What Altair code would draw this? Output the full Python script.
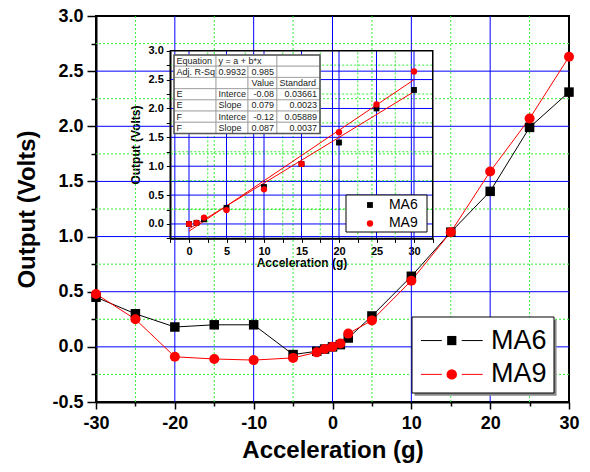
import altair as alt
import pandas as pd

# ---------------- data ----------------
accel = [-30, -25, -20, -15, -10, -5, -2, -1, 0, 1, 2, 5, 10, 15, 20, 25, 30]
ma6 = [0.45, 0.30, 0.18, 0.20, 0.20, -0.07, -0.04, -0.02, 0.00, 0.02, 0.08, 0.28, 0.64, 1.04, 1.41, 1.99, 2.31]
ma9 = [0.48, 0.25, -0.09, -0.11, -0.12, -0.10, -0.05, -0.02, 0.00, 0.03, 0.12, 0.24, 0.60, 1.04, 1.59, 2.07, 2.63]
series_names = ["MA6", "MA9"]
series_colors = ["black", "red"]
series_shapes = ["square", "circle"]

inset_accel = [0, 1, 2, 5, 10, 15, 20, 25, 30]
inset_ma6 = [0.00, 0.02, 0.08, 0.28, 0.64, 1.04, 1.41, 2.00, 2.32]
inset_ma9 = [0.00, 0.02, 0.11, 0.24, 0.60, 1.04, 1.59, 2.07, 2.64]

main_x_ticks = [-30, -25, -20, -15, -10, -5, 0, 5, 10, 15, 20, 25, 30]
main_y_ticks = [-0.5, -0.25, 0.0, 0.25, 0.5, 0.75, 1.0, 1.25, 1.5, 1.75, 2.0, 2.25, 2.5, 2.75, 3.0]
main_x_major_grid = [-20, -10, 0, 10, 20]
main_x_minor_grid = [-25, -15, -5, 5, 15, 25]
main_y_major_grid = [0.0, 0.5, 1.0, 1.5, 2.0, 2.5]
main_y_minor_grid = [-0.25, 0.25, 0.75, 1.25, 1.75, 2.25, 2.75]

inset_x_ticks = [-2.5, 0, 2.5, 5, 7.5, 10, 12.5, 15, 17.5, 20, 22.5, 25, 27.5, 30, 32.5]
inset_y_ticks = [-0.25, 0.0, 0.25, 0.5, 0.75, 1.0, 1.25, 1.5, 1.75, 2.0, 2.25, 2.5, 2.75, 3.0]
inset_x_major_grid = [0, 5, 10, 15, 20, 25, 30]
inset_x_minor_grid = [2.5, 7.5, 12.5, 17.5, 22.5, 27.5]
inset_y_major_grid = [0.0, 0.5, 1.0, 1.5, 2.0, 2.5]
inset_y_minor_grid = [0.25, 0.75, 1.25, 1.75, 2.25, 2.75]

table_col1 = ["Equation", "Adj. R-Sq", "", "E", "E", "F", "F"]
table_col2 = ["y = a + b*x", "0.9932", "", "Interce", "Slope", "Interce", "Slope"]
table_col3 = ["", "0.985", "Value", "-0.08", "0.079", "-0.12", "0.087"]
table_col4 = ["", "", "Standard", "0.03661", "0.0023", "0.05889", "0.0037"]

# ---------------- layout / style ----------------
FONT = "Liberation Sans"
BLUE = "#0000ff"
GREEN = "#33ee33"
W, H = 473, 386
MINUS = "\u2212"

# ---------------- main chart ----------------
main_df = pd.DataFrame({
    "accel": accel + accel,
    "volts": ma6 + ma9,
    "series": ["MA6"] * len(accel) + ["MA9"] * len(accel),
})

MX = alt.Scale(domain=[-30, 30], nice=False, zero=False)
MY = alt.Scale(domain=[-0.5, 3.0], nice=False, zero=False)

x_major_test = "datum.value % 10 == 0"
y_major_test = "abs(round(datum.value * 4)) % 2 == 0"

mx_axis = alt.Axis(
    values=main_x_ticks, grid=False, title="Acceleration (g)",
    labelExpr=f"{x_major_test} ? replace(datum.label, '{MINUS}', '-') : ''",
    labelFont=FONT, labelFontSize=18, labelFontWeight="bold", labelColor="black",
    labelPadding=5, labelFlush=False, labelOverlap=False,
    tickColor="black", tickWidth=1.5,
    tickSize={"condition": {"test": x_major_test, "value": 7}, "value": 4},
    domainColor="black", domainWidth=2,
    titleFont=FONT, titleFontSize=24, titleFontWeight="bold", titleColor="black",
    titlePadding=6,
)
my_axis = alt.Axis(
    values=main_y_ticks, grid=False, title="Output (Volts)", format=".1f",
    labelExpr=f"{y_major_test} ? replace(datum.label, '{MINUS}', '-') : ''",
    labelFont=FONT, labelFontSize=18, labelFontWeight="bold", labelColor="black",
    labelPadding=4, labelFlush=False, labelOverlap=False,
    tickColor="black", tickWidth=1.5,
    tickSize={"condition": {"test": y_major_test, "value": 9}, "value": 5},
    domainColor="black", domainWidth=2,
    titleFont=FONT, titleFontSize=24, titleFontWeight="bold", titleColor="black",
    titlePadding=12,
)


def vgrid(values, color, dash, scale, axis, ylo=None, yhi=None, yscale=None, yaxis=None):
    ch = alt.Chart(pd.DataFrame({"g": values}))
    mk = ch.mark_rule(color=color, strokeWidth=1, strokeDash=dash) if dash else ch.mark_rule(color=color, strokeWidth=1)
    enc = {"x": alt.X("g:Q", scale=scale, axis=axis)}
    if ylo is not None:
        enc["y"] = alt.YDatum(ylo, scale=yscale, axis=yaxis)
        enc["y2"] = alt.Y2Datum(yhi)
    return mk.encode(**enc)


def hgrid(values, color, dash, scale, axis, xlo=None, xhi=None, xscale=None, xaxis=None):
    ch = alt.Chart(pd.DataFrame({"g": values}))
    mk = ch.mark_rule(color=color, strokeWidth=1, strokeDash=dash) if dash else ch.mark_rule(color=color, strokeWidth=1)
    enc = {"y": alt.Y("g:Q", scale=scale, axis=axis)}
    if xlo is not None:
        enc["x"] = alt.XDatum(xlo, scale=xscale, axis=xaxis)
        enc["x2"] = alt.X2Datum(xhi)
    return mk.encode(**enc)


color_enc = alt.Color("series:N", scale=alt.Scale(domain=series_names, range=series_colors), legend=None)
shape_enc = alt.Shape("series:N", scale=alt.Scale(domain=series_names, range=series_shapes), legend=None)

main_lines = alt.Chart(main_df).mark_line(strokeWidth=1).encode(
    x=alt.X("accel:Q", scale=MX, axis=mx_axis),
    y=alt.Y("volts:Q", scale=MY, axis=my_axis),
    color=color_enc,
)
main_points = alt.Chart(main_df).mark_point(filled=True, opacity=1).encode(
    x=alt.X("accel:Q", scale=MX, axis=mx_axis),
    y=alt.Y("volts:Q", scale=MY, axis=my_axis),
    color=color_enc,
    shape=shape_enc,
    size=alt.Size("series:N", scale=alt.Scale(domain=series_names, range=[90, 100]), legend=None),
)

main_layer = alt.layer(
    vgrid(main_x_minor_grid, GREEN, [2, 2], MX, mx_axis),
    hgrid(main_y_minor_grid, GREEN, [2, 2], MY, my_axis),
    vgrid(main_x_major_grid, BLUE, None, MX, mx_axis),
    hgrid(main_y_major_grid, BLUE, None, MY, my_axis),
    main_lines,
    main_points,
)

# ---------------- inset chart ----------------
inset_df = pd.DataFrame({
    "accel": inset_accel + inset_accel,
    "volts": inset_ma6 + inset_ma9,
    "series": ["MA6"] * len(inset_accel) + ["MA9"] * len(inset_accel),
})

IX = alt.Scale(domain=[-2.5, 32.5], range=[74.25, 336.75], nice=False, zero=False)
IY = alt.Scale(domain=[-0.25, 3.0], range=[222.4, 34.7], nice=False, zero=False)

ix_major = "datum.value % 5 == 0"
iy_major = "abs(round(datum.value * 4)) % 2 == 0"

ix_axis = alt.Axis(
    orient="bottom", offset=222.4 - H, values=inset_x_ticks, grid=False,
    title="Acceleration (g)",
    labelExpr=f"{ix_major} ? replace(datum.label, '{MINUS}', '-') : ''",
    labelFont=FONT, labelFontSize=11, labelFontWeight="bold", labelColor="black",
    labelPadding=3, labelFlush=False, labelOverlap=False,
    tickColor="black", tickWidth=1, tickSize=4,
    domainColor="black", domainWidth=1.5,
    titleFont=FONT, titleFontSize=12, titleFontWeight="bold", titleColor="black",
    titlePadding=1,
)
iy_axis = alt.Axis(
    orient="left", offset=-74.25, values=inset_y_ticks, grid=False,
    title="Output (Volts)", format=".1f",
    labelExpr=f"{iy_major} ? replace(datum.label, '{MINUS}', '-') : ''",
    labelFont=FONT, labelFontSize=11, labelFontWeight="bold", labelColor="black",
    labelPadding=3, labelFlush=False, labelOverlap=False,
    tickColor="black", tickWidth=1, tickSize=4,
    domainColor="black", domainWidth=1.5,
    titleFont=FONT, titleFontSize=12, titleFontWeight="bold", titleColor="black",
    titlePadding=5,
)

inset_frame = alt.Chart(pd.DataFrame({"k": [0]})).mark_rect(
    filled=False, stroke="black", strokeWidth=1.5
).encode(
    x=alt.XDatum(-2.5, scale=IX, axis=ix_axis), x2=alt.X2Datum(32.5),
    y=alt.YDatum(-0.25, scale=IY, axis=iy_axis), y2=alt.Y2Datum(3.0),
)

inset_fit = alt.Chart(inset_df).transform_regression(
    "accel", "volts", groupby=["series"]
).mark_line(color="red", strokeWidth=1).encode(
    x=alt.X("accel:Q", scale=IX, axis=ix_axis),
    y=alt.Y("volts:Q", scale=IY, axis=iy_axis),
    detail="series:N",
)

inset_points = alt.Chart(inset_df).mark_point(filled=True, opacity=1).encode(
    x=alt.X("accel:Q", scale=IX, axis=ix_axis),
    y=alt.Y("volts:Q", scale=IY, axis=iy_axis),
    color=alt.Color("series:N", scale=alt.Scale(domain=series_names, range=series_colors), legend=None),
    shape=alt.Shape("series:N", scale=alt.Scale(domain=series_names, range=series_shapes), legend=None),
    size=alt.Size("series:N", scale=alt.Scale(domain=series_names, range=[34, 40]), legend=None),
)

inset_layer = alt.layer(
    vgrid(inset_x_minor_grid, GREEN, [2, 2], IX, ix_axis, -0.25, 3.0, IY, iy_axis),
    hgrid(inset_y_minor_grid, GREEN, [2, 2], IY, iy_axis, -2.5, 32.5, IX, ix_axis),
    vgrid(inset_x_major_grid, BLUE, None, IX, ix_axis, -0.25, 3.0, IY, iy_axis),
    hgrid(inset_y_major_grid, BLUE, None, IY, iy_axis, -2.5, 32.5, IX, ix_axis),
    inset_frame,
    inset_fit,
    inset_points,
)

# ---------------- fit-result table ----------------
col_edges = [0.0, 0.288, 0.507, 0.705, 1.0]   # fractions of table width
TX = alt.Scale(domain=[0, 1], range=[78, 224], nice=False, zero=False)
TY = alt.Scale(domain=[0, 7], range=[39, 117.5], nice=False, zero=False)

cells = []
cols = [table_col1, table_col2, table_col3, table_col4]
for r in range(7):
    for c in range(4):
        if r == 0 and c == 2:
            continue
        x1 = col_edges[3] if (r == 0 and c == 1) else col_edges[c + 1]
        txt = cols[c][r]
        align = "left" if (c < 2 or txt == "Standard") else "right"
        cells.append({"x0": col_edges[c], "x1": x1, "r0": r, "r1": r + 1,
                      "rm": r + 0.5, "text": txt, "halign": align})
cells_df = pd.DataFrame(cells)

t_cells = alt.Chart(cells_df).mark_rect(fill="white", stroke="#9a9a9a", strokeWidth=0.8).encode(
    x=alt.X("x0:Q", scale=TX, axis=None), x2="x1:Q",
    y=alt.Y("r0:Q", scale=TY, axis=None), y2="r1:Q",
)
t_left = alt.Chart(cells_df).transform_filter("datum.halign == 'left'").mark_text(
    align="left", baseline="middle", dx=2.5, font=FONT, fontSize=9, color="#222"
).encode(x=alt.X("x0:Q", scale=TX, axis=None), y=alt.Y("rm:Q", scale=TY, axis=None), text="text:N")
t_right = alt.Chart(cells_df).transform_filter("datum.halign == 'right'").mark_text(
    align="right", baseline="middle", dx=-3, font=FONT, fontSize=9, color="#222"
).encode(x=alt.X("x1:Q", scale=TX, axis=None), y=alt.Y("rm:Q", scale=TY, axis=None), text="text:N")
t_border = alt.Chart(pd.DataFrame({"k": [0]})).mark_rect(
    filled=False, stroke="#555555", strokeWidth=1.5
).encode(
    x=alt.XDatum(0, scale=TX, axis=None), x2=alt.X2Datum(1),
    y=alt.YDatum(0, scale=TY, axis=None), y2=alt.Y2Datum(7),
)
table_layer = alt.layer(t_cells, t_left, t_right, t_border)

# ---------------- inset legend ----------------
ILX = alt.Scale(domain=[0, 1], range=[250, 331], nice=False, zero=False)
ILY = alt.Scale(domain=[0, 1], range=[179, 216], nice=False, zero=False)
il_df = pd.DataFrame({"series": series_names, "row": [0.27, 0.77]})
il_box = alt.Chart(pd.DataFrame({"k": [0]})).mark_rect(fill="white", stroke="black", strokeWidth=1).encode(
    x=alt.XDatum(0, scale=ILX, axis=None), x2=alt.X2Datum(1),
    y=alt.YDatum(0, scale=ILY, axis=None), y2=alt.Y2Datum(1),
)
il_marks = alt.Chart(il_df).mark_point(filled=True, opacity=1).encode(
    x=alt.XDatum(0.296, scale=ILX, axis=None),
    y=alt.Y("row:Q", scale=ILY, axis=None),
    color=alt.Color("series:N", scale=alt.Scale(domain=series_names, range=series_colors), legend=None),
    shape=alt.Shape("series:N", scale=alt.Scale(domain=series_names, range=series_shapes), legend=None),
    size=alt.Size("series:N", scale=alt.Scale(domain=series_names, range=[34, 40]), legend=None),
)
il_text = alt.Chart(il_df).mark_text(align="left", baseline="middle", font=FONT, fontSize=14, color="black").encode(
    x=alt.XDatum(0.53, scale=ILX, axis=None),
    y=alt.Y("row:Q", scale=ILY, axis=None),
    text="series:N",
)
ilegend_layer = alt.layer(il_box, il_marks, il_text)

# ---------------- main legend ----------------
LX = alt.Scale(domain=[0, 1], range=[316, 458], nice=False, zero=False)
LY = alt.Scale(domain=[0, 1], range=[301, 377], nice=False, zero=False)
ml_df = pd.DataFrame({"series": series_names, "row": [0.31, 0.755]})
ml_shadow = alt.Chart(pd.DataFrame({"k": [0]})).mark_rect(fill="#8a8a8a").encode(
    x=alt.XDatum(0.018, scale=LX, axis=None), x2=alt.X2Datum(1.018),
    y=alt.YDatum(0.035, scale=LY, axis=None), y2=alt.Y2Datum(1.035),
)
ml_box = alt.Chart(pd.DataFrame({"k": [0]})).mark_rect(fill="white", stroke="black", strokeWidth=1).encode(
    x=alt.XDatum(0, scale=LX, axis=None), x2=alt.X2Datum(1),
    y=alt.YDatum(0, scale=LY, axis=None), y2=alt.Y2Datum(1),
)
ml_color = alt.Color("series:N", scale=alt.Scale(domain=series_names, range=series_colors), legend=None)
ml_seg_left = alt.Chart(ml_df).mark_rule(strokeWidth=1).encode(
    x=alt.XDatum(0.063, scale=LX, axis=None), x2=alt.X2Datum(0.21),
    y=alt.Y("row:Q", scale=LY, axis=None), color=ml_color,
)
ml_seg_right = alt.Chart(ml_df).mark_rule(strokeWidth=1).encode(
    x=alt.XDatum(0.35, scale=LX, axis=None), x2=alt.X2Datum(0.498),
    y=alt.Y("row:Q", scale=LY, axis=None), color=ml_color,
)
ml_marks = alt.Chart(ml_df).mark_point(filled=True, opacity=1).encode(
    x=alt.XDatum(0.28, scale=LX, axis=None),
    y=alt.Y("row:Q", scale=LY, axis=None),
    color=ml_color,
    shape=alt.Shape("series:N", scale=alt.Scale(domain=series_names, range=series_shapes), legend=None),
    size=alt.Size("series:N", scale=alt.Scale(domain=series_names, range=[85, 110]), legend=None),
)
ml_text = alt.Chart(ml_df).mark_text(align="left", baseline="middle", font=FONT, fontSize=27, color="black").encode(
    x=alt.XDatum(0.556, scale=LX, axis=None),
    y=alt.Y("row:Q", scale=LY, axis=None),
    text="series:N",
)
mlegend_layer = alt.layer(ml_shadow, ml_box, ml_seg_left, ml_seg_right, ml_marks, ml_text)

# ---------------- assemble ----------------
chart = alt.layer(
    main_layer, inset_layer, table_layer, ilegend_layer, mlegend_layer
).resolve_scale(
    x="independent", y="independent", color="independent", shape="independent", size="independent"
).properties(
    width=W, height=H,
    autosize=alt.AutoSizeParams(type="none"),
    padding={"left": 96, "top": 16, "right": 21, "bottom": 70},
    background="white",
).configure_view(stroke="black", strokeWidth=2)

chart.save("out.html", embed_options={"renderer": "svg", "actions": False})
